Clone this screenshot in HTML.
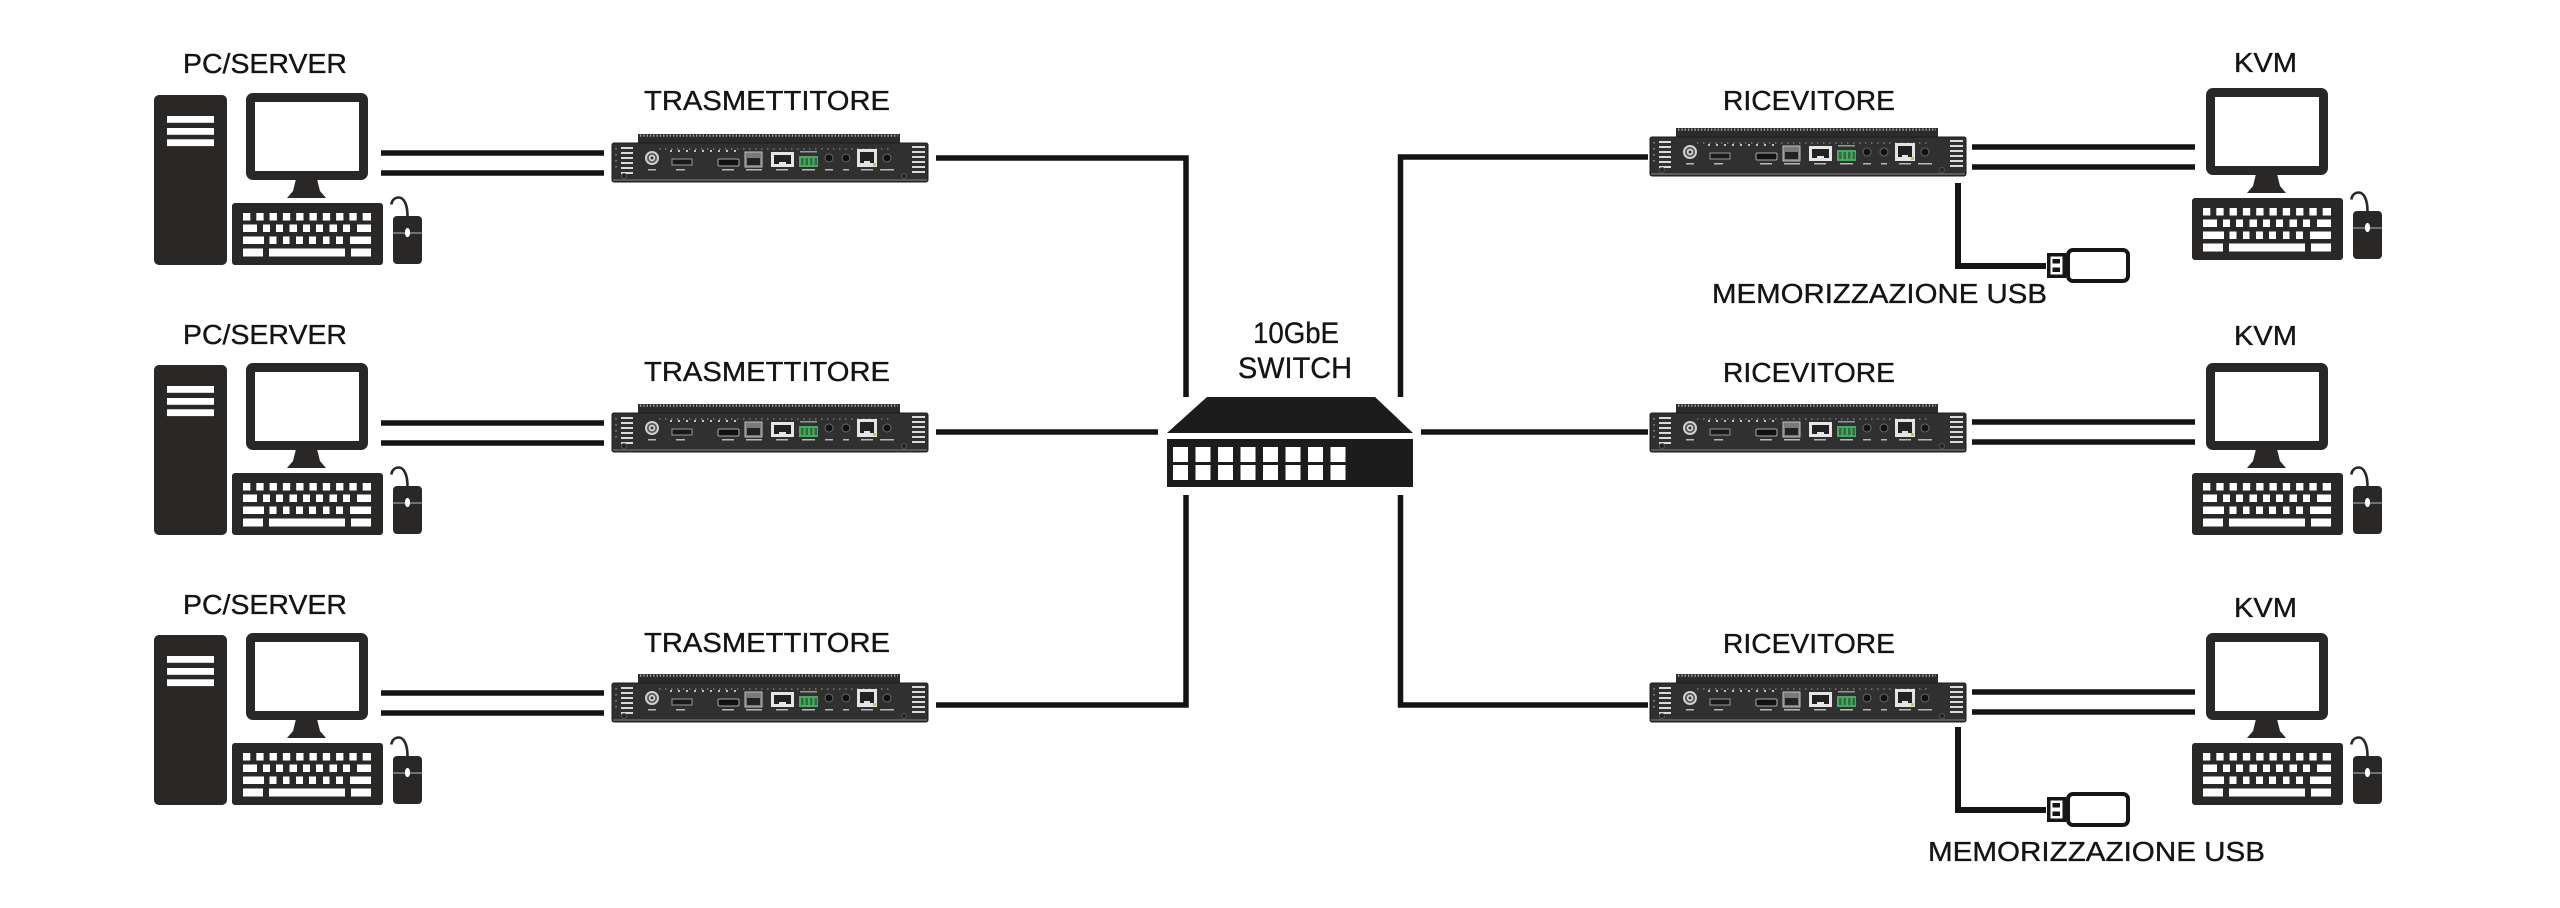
<!DOCTYPE html>
<html><head><meta charset="utf-8">
<style>
html,body{margin:0;padding:0;background:#fff;width:2560px;height:908px;overflow:hidden;}
svg{display:block;}
text{font-family:"Liberation Sans",Arial,sans-serif;fill:#141414;stroke:#141414;stroke-width:0.35px;}
</style></head>
<body>
<svg width="2560" height="908" viewBox="0 0 2560 908" xmlns="http://www.w3.org/2000/svg">
<defs>
  <g id="kvm">
    <rect x="246" y="93" width="122" height="87" rx="7" fill="#2a2827"/>
    <rect x="255" y="102" width="104" height="69" fill="#fff"/>
    <polygon points="296,179 317,179 320,191 326,198 287,198 293,191" fill="#2a2827"/>
    <rect x="232" y="203" width="151" height="62" rx="3" fill="#2a2827"/>
    <g fill="#fff">
      <rect x="243" y="213" width="7.3" height="7.5"/>
      <rect x="256.3" y="213" width="7.3" height="7.5"/>
      <rect x="269.6" y="213" width="7.3" height="7.5"/>
      <rect x="282.9" y="213" width="7.3" height="7.5"/>
      <rect x="296.2" y="213" width="7.3" height="7.5"/>
      <rect x="309.5" y="213" width="7.3" height="7.5"/>
      <rect x="322.8" y="213" width="7.3" height="7.5"/>
      <rect x="336.1" y="213" width="7.3" height="7.5"/>
      <rect x="349.4" y="213" width="7.3" height="7.5"/>
      <rect x="362.7" y="213" width="8.3" height="7.5"/>

      <rect x="243" y="224.5" width="14" height="7.5"/>
      <rect x="263" y="224.5" width="7" height="7.5"/>
      <rect x="276" y="224.5" width="7" height="7.5"/>
      <rect x="289.5" y="224.5" width="7.5" height="7.5"/>
      <rect x="303" y="224.5" width="7" height="7.5"/>
      <rect x="316" y="224.5" width="7" height="7.5"/>
      <rect x="329.5" y="224.5" width="7.5" height="7.5"/>
      <rect x="343" y="224.5" width="7" height="7.5"/>
      <rect x="357" y="224.5" width="14" height="7.5"/>

      <rect x="243" y="236.5" width="21" height="7.5"/>
      <rect x="269.5" y="236.5" width="7" height="7.5"/>
      <rect x="283" y="236.5" width="6.5" height="7.5"/>
      <rect x="296" y="236.5" width="7" height="7.5"/>
      <rect x="309" y="236.5" width="7" height="7.5"/>
      <rect x="323" y="236.5" width="6.5" height="7.5"/>
      <rect x="336" y="236.5" width="7" height="7.5"/>
      <rect x="350" y="236.5" width="21" height="7.5"/>

      <rect x="243" y="248.5" width="20" height="8"/>
      <rect x="269" y="248.5" width="76" height="8"/>
      <rect x="351" y="248.5" width="20" height="8"/>
    </g>
    <rect x="393" y="216" width="29" height="48" rx="4" fill="#2a2827"/>
    <line x1="393" y1="233" x2="422" y2="233" stroke="#9a9a9a" stroke-width="1.2"/>
    <ellipse cx="407.5" cy="232.5" rx="2.6" ry="4.6" fill="#fff"/>
    <path d="M407.5,216 C407.5,204 403.5,197.5 398.8,197.5 C394.5,197.5 391.8,200.5 391.3,204.5" fill="none" stroke="#2a2827" stroke-width="2.6"/>
  </g>

  <g id="tower">
    <rect x="154" y="95" width="73" height="170" rx="5" fill="#2a2827"/>
    <rect x="167" y="116" width="47" height="6.8" fill="#fff"/>
    <rect x="167" y="128" width="47" height="6.8" fill="#fff"/>
    <rect x="167" y="139.3" width="47" height="6.8" fill="#fff"/>
  </g>

  <g id="dev">
    <rect x="26" y="0" width="262" height="12" fill="#2b2b2b"/>
    <line x1="28" y1="1.6" x2="286" y2="1.6" stroke="#a8a8a8" stroke-width="2.2" stroke-dasharray="1.3 2"/>
    <rect x="0" y="9" width="316" height="39" rx="2" fill="#303030" stroke="#1d1d1d" stroke-width="1"/>
    <rect x="1" y="45" width="314" height="2" fill="#5a5a5a"/>
    <line x1="47" y1="15" x2="280" y2="15" stroke="#8a8a8a" stroke-width="1.3" stroke-dasharray="1.5 4.5"/>
    <g fill="#dadada">
      <rect x="9" y="13" width="12" height="2"/>
      <rect x="9" y="18" width="12" height="2"/>
      <rect x="9" y="23" width="12" height="2"/>
      <rect x="9" y="28" width="12" height="2"/>
      <rect x="9" y="33" width="12" height="2"/>
      <rect x="9" y="38" width="12" height="2"/>
      <rect x="300" y="12" width="13" height="2"/>
      <rect x="300" y="17" width="13" height="2"/>
      <rect x="300" y="22" width="13" height="2"/>
      <rect x="300" y="27" width="13" height="2"/>
      <rect x="300" y="32" width="13" height="2"/>
      <rect x="300" y="37" width="13" height="2"/>
    </g>
    <g fill="#777">
      <rect x="3" y="14" width="2" height="1.5"/>
      <rect x="3" y="20" width="2" height="1.5"/>
      <rect x="3" y="26" width="2" height="1.5"/>
      <rect x="3" y="32" width="2" height="1.5"/>
    </g>
    <circle cx="40" cy="24" r="7" fill="#cfcfcf"/>
    <circle cx="40" cy="24" r="5" fill="#555"/>
    <circle cx="40" cy="24" r="3.2" fill="#dcdcdc"/>
    <circle cx="40" cy="24" r="1.5" fill="#333"/>
    <line x1="58" y1="17" x2="126" y2="17" stroke="#c4c4c4" stroke-width="2" stroke-dasharray="2 6"/>
    <rect x="60" y="25" width="20" height="6" fill="#1a1a1a" stroke="#9a9a9a" stroke-width="1"/>
    <rect x="106" y="25" width="21" height="7" rx="1.5" fill="#111" stroke="#aaa" stroke-width="1"/>
    <rect x="133" y="18" width="17" height="15" fill="#7a7a7a" stroke="#c0c0c0" stroke-width="1"/>
    <rect x="135" y="24" width="13" height="7" fill="#222"/>
    <rect x="159" y="18" width="23" height="15" fill="#e6e6e6"/>
    <rect x="162" y="21" width="17" height="9" fill="#222"/>
    <rect x="167" y="28" width="7" height="3" fill="#e6e6e6"/>
    <rect x="187" y="22" width="19" height="11" fill="#4aa864"/>
    <g fill="#2c6e3e">
      <rect x="189" y="24" width="2.5" height="7"/>
      <rect x="193.5" y="24" width="2.5" height="7"/>
      <rect x="198" y="24" width="2.5" height="7"/>
      <rect x="202.5" y="24" width="2.5" height="7"/>
    </g>
    <rect x="188" y="17" width="17" height="1.5" fill="#999"/>
    <circle cx="217" cy="24" r="4" fill="#111" stroke="#6a6a6a" stroke-width="1"/>
    <circle cx="234" cy="24" r="4" fill="#111" stroke="#6a6a6a" stroke-width="1"/>
    <rect x="245" y="15" width="20" height="18" fill="#e4e4e4"/>
    <rect x="248" y="18" width="14" height="11" fill="#222"/>
    <rect x="252" y="27" width="6" height="3" fill="#e4e4e4"/>
    <rect x="261" y="29" width="3" height="3" fill="#d6c030"/>
    <circle cx="275" cy="24" r="4" fill="#111" stroke="#6a6a6a" stroke-width="1"/>
    <g fill="#b8b8b8">
      <rect x="36" y="35" width="8" height="1.5"/>
      <rect x="64" y="35" width="9" height="1.5"/>
      <rect x="110" y="35" width="12" height="1.5"/>
      <rect x="134" y="35" width="16" height="1.5"/>
      <rect x="164" y="35" width="12" height="1.5"/>
      <rect x="190" y="35" width="13" height="1.5"/>
      <rect x="213" y="35" width="8" height="1.5"/>
      <rect x="231" y="35" width="6" height="1.5"/>
      <rect x="249" y="35" width="12" height="1.5"/>
      <rect x="268" y="35" width="14" height="1.5"/>
    </g>
    <circle cx="12" cy="42" r="2.5" fill="#222" stroke="#555" stroke-width="1"/>
    <circle cx="292" cy="42" r="2.5" fill="#222" stroke="#555" stroke-width="1"/>
  </g>

  <g id="usb">
    <rect x="2048.75" y="254.75" width="15.5" height="21.5" fill="#fff" stroke="#161616" stroke-width="3.5"/>
    <rect x="2052.5" y="259" width="7.5" height="4.5" fill="#161616"/>
    <rect x="2052.5" y="267.5" width="7.5" height="4.5" fill="#161616"/>
    <rect x="2068" y="250" width="60" height="31" rx="5" fill="#fff" stroke="#161616" stroke-width="4"/>
  </g>
</defs>

<rect width="2560" height="908" fill="#fff"/>

<use href="#tower"/>
<use href="#kvm"/>
<use href="#tower" y="270"/>
<use href="#kvm" y="270"/>
<use href="#tower" y="540"/>
<use href="#kvm" y="540"/>

<use href="#kvm" x="1960" y="-5"/>
<use href="#kvm" x="1960" y="270"/>
<use href="#kvm" x="1960" y="540"/>

<use href="#dev" transform="translate(612,134)"/>
<use href="#dev" transform="translate(612,404)"/>
<use href="#dev" transform="translate(612,674)"/>

<use href="#dev" transform="translate(1650,128)"/>
<use href="#dev" transform="translate(1650,404)"/>
<use href="#dev" transform="translate(1650,674)"/>

<g stroke="#141414" stroke-width="5.5" fill="none">
  <path d="M381,153 H604 M381,173 H604"/>
  <path d="M381,423 H604 M381,443 H604"/>
  <path d="M381,693 H604 M381,713 H604"/>
  <path d="M1972,147 H2195 M1972,167 H2195"/>
  <path d="M1972,422 H2195 M1972,442 H2195"/>
  <path d="M1972,692 H2195 M1972,712 H2195"/>
</g>

<g stroke="#141414" stroke-width="5.5" fill="none" stroke-linejoin="miter">
  <path d="M936,158 H1186 V397"/>
  <path d="M936,705 H1186 V495"/>
  <path d="M936,432 H1158"/>
  <path d="M1648,157 H1400.5 V397"/>
  <path d="M1648,705 H1400.5 V495"/>
  <path d="M1421,432 H1648"/>
</g>

<polygon points="1207,397 1375,397 1413,433 1167,433" fill="#1c1c1c"/>
<rect x="1167" y="439" width="246" height="48" fill="#1c1c1c"/>
<g fill="#fff">
  <rect x="1173" y="447" width="15" height="15"/><rect x="1195.5" y="447" width="15" height="15"/>
  <rect x="1218" y="447" width="15" height="15"/><rect x="1240.5" y="447" width="15" height="15"/>
  <rect x="1263" y="447" width="15" height="15"/><rect x="1285.5" y="447" width="15" height="15"/>
  <rect x="1308" y="447" width="15" height="15"/><rect x="1330.5" y="447" width="15" height="15"/>
  <rect x="1173" y="465" width="15" height="15"/><rect x="1195.5" y="465" width="15" height="15"/>
  <rect x="1218" y="465" width="15" height="15"/><rect x="1240.5" y="465" width="15" height="15"/>
  <rect x="1263" y="465" width="15" height="15"/><rect x="1285.5" y="465" width="15" height="15"/>
  <rect x="1308" y="465" width="15" height="15"/><rect x="1330.5" y="465" width="15" height="15"/>
</g>

<g stroke="#141414" stroke-width="6" fill="none">
  <path d="M1958,183 V266 H2046"/>
  <path d="M1958,727 V810 H2046"/>
</g>
<use href="#usb"/>
<use href="#usb" y="544"/>

<g font-size="28">
  <text x="183" y="73" textLength="164" lengthAdjust="spacingAndGlyphs">PC/SERVER</text>
  <text x="183" y="344" textLength="164" lengthAdjust="spacingAndGlyphs">PC/SERVER</text>
  <text x="183" y="614" textLength="164" lengthAdjust="spacingAndGlyphs">PC/SERVER</text>

  <text x="644" y="110" textLength="246" lengthAdjust="spacingAndGlyphs">TRASMETTITORE</text>
  <text x="644" y="381" textLength="246" lengthAdjust="spacingAndGlyphs">TRASMETTITORE</text>
  <text x="644" y="652" textLength="246" lengthAdjust="spacingAndGlyphs">TRASMETTITORE</text>

  <text x="1723" y="110" textLength="172" lengthAdjust="spacingAndGlyphs">RICEVITORE</text>
  <text x="1723" y="382" textLength="172" lengthAdjust="spacingAndGlyphs">RICEVITORE</text>
  <text x="1723" y="653" textLength="172" lengthAdjust="spacingAndGlyphs">RICEVITORE</text>

  <text x="2234" y="72" textLength="63" lengthAdjust="spacingAndGlyphs">KVM</text>
  <text x="2234" y="345" textLength="63" lengthAdjust="spacingAndGlyphs">KVM</text>
  <text x="2234" y="617" textLength="63" lengthAdjust="spacingAndGlyphs">KVM</text>

  <text x="1712" y="303" textLength="335" lengthAdjust="spacingAndGlyphs">MEMORIZZAZIONE USB</text>
  <text x="1928" y="861" textLength="337" lengthAdjust="spacingAndGlyphs">MEMORIZZAZIONE USB</text>
</g>
<g font-size="30">
  <text x="1253" y="343" textLength="86" lengthAdjust="spacingAndGlyphs">10GbE</text>
  <text x="1238" y="378" textLength="114" lengthAdjust="spacingAndGlyphs">SWITCH</text>
</g>
</svg>
</body></html>
